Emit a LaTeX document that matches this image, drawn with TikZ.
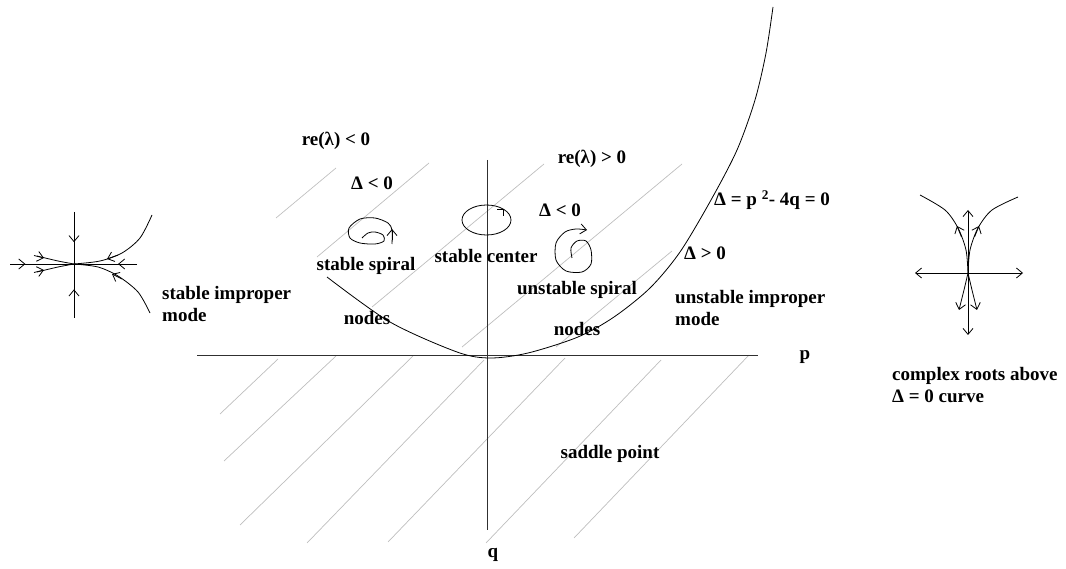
\documentclass[tikz,border=0pt]{standalone}
\usepackage{fontspec}
\setmainfont{Liberation Serif}
\usetikzlibrary{arrows.meta,decorations.markings}
\definecolor{hatchCol}{HTML}{BEBEBE}
\definecolor{axisCol}{HTML}{303030}
\tikzset{
  lbl/.style={font=\fontsize{19}{22}\selectfont\bfseries, inner sep=0pt, align=left},
  axline/.style={draw=axisCol, line width=0.9pt},
  hatch/.style={draw=hatchCol, line width=0.7pt},
  traj/.style={draw=black, line width=0.8pt},
  barb/.style={-{Straight Barb[length=6pt,width=10pt]}},
  midtip/.style={postaction=decorate, decoration={markings,
        mark=at position #1 with {\arrow{Straight Barb[length=6pt,width=10pt]}}}},
}

\begin{document}
\begin{tikzpicture}[x=1pt,y=-1pt]
  \useasboundingbox (0,0) rectangle (1066,569);
  % hatching, upper half
  \foreach \xa/\ya/\xb/\yb in {276/218/336/168, 317/257/429/163, 372/307/544/164,
                              462/347/682/164, 556/347/672/251}
    \draw[hatch] (\xa,\ya) -- (\xb,\yb);
  % hatching, lower half
  \foreach \xa/\ya/\xb/\yb in {220/414/278/359, 224/461/336/356, 240/525/413/356,
                              307/543/484/360, 388/542/565/358, 486/543/661/360,
                              574/538/749/355}
    \draw[hatch] (\xa,\ya) -- (\xb,\yb);
  % axes
  \coordinate (pL) at (197,355);
  \coordinate (pR) at (758,355);
  \coordinate (qT) at (487,160);
  \coordinate (qB) at (487,530);
  \draw[axline] (pL) -- (pR);
  \draw[axline] (qT) -- (qB);
  \node[lbl] (plab) at (805,357) {p};
  \node[lbl] (qlab) at (493,555) {q};
  % discriminant curve
  \draw[traj] plot[smooth] coordinates {(327,277) (390,322) (457,352) (490,358) (528,353)
     (578,337) (614,317) (650,288) (680,252) (711,200) (737,150) (755,100) (766,53) (773,7)};
  % region labels
  \node[lbl] (reneg)  at (336,141) {re(λ) < 0};
  \node[lbl] (dneg1)  at (372,183) {Δ < 0};
  \node[lbl] (repos)  at (592,159) {re(λ) > 0};
  \node[lbl] (dneg2)  at (560,210) {Δ < 0};
  \node[lbl] (sspir)  at (366,266) {stable spiral};
  \node[lbl] (scent)  at (486,256) {stable center};
  \node[lbl] (uspir)  at (577,290) {unstable spiral};
  \node[lbl] (nodesL) at (367,318) {nodes};
  \node[lbl] (nodesR) at (577,329) {nodes};
  \node[lbl] (dpos)   at (705,253) {Δ > 0};
  \node[lbl, anchor=west] (disc) at (714,200) {Δ = p \textsuperscript{2}- 4q = 0};
  \node[lbl, anchor=west] (uimp) at (675,308) {unstable improper\\mode};
  \node[lbl, anchor=west] (simp) at (162,304) {stable improper\\mode};
  \node[lbl, anchor=west] (cplx) at (892,385) {complex roots above\\Δ = 0 curve};
  \node[lbl] (sadd)   at (610,454) {saddle point};
  % small orbits
  \draw[traj] plot[smooth] coordinates {(392,244) (392,230) (388,223) (375,218)
     (360,219) (349,228) (350,238) (360,243) (375,244) (384,241) (383,235) (375,232)
     (368,233) (362,238)};
  \draw[traj, barb] (392,240) -- (392,229);
  \draw[traj] (486.5,220) ellipse[x radius=24.5, y radius=15];
  \draw[traj] (497,209) -- (503,209) -- (503,216);
  \draw[traj, barb] plot[smooth] coordinates {(572,258) (571,248) (577,241) (586,241)
     (591,250) (591,264) (582,272) (566,271) (556,260) (556,243) (565,232) (576,229) (587,230)};
  % stable improper node (left)
  \coordinate (lC) at (74,264);
  \coordinate (lT) at (74,212);
  \coordinate (lB) at (74,318);
  \coordinate (lW) at (10,264);
  \coordinate (lE) at (137,264);
  \draw[traj, midtip=0.58] (lT) -- (lC);
  \draw[traj, midtip=0.53] (lB) -- (lC);
  \draw[traj, midtip=0.24] (lW) -- (lC);
  \draw[traj, midtip=0.3]  (lE) -- (lC);
  \draw[traj] plot[smooth] coordinates {(152,215) (140,238) (122,253) (100,261) (lC)};
  \draw[traj] plot[smooth] coordinates {(150,313) (138,292) (118,276) (98,267) (lC)};
  \draw[traj] plot[smooth] coordinates {(37,256) (58,261) (lC)};
  \draw[traj] plot[smooth] coordinates {(37,272) (58,267) (lC)};
  \draw[traj, barb] (118,255) -- (107,259);
  \draw[traj, barb] (122,279) -- (112,274);
  \draw[traj, barb] (34,255.5) -- (44,258);
  \draw[traj, barb] (34,272.5) -- (44,270);
  % unstable improper node (right)
  \coordinate (rC) at (968,273);
  \draw[traj, barb] (rC) -- (915,273);
  \draw[traj, barb] (rC) -- (1023,273);
  \draw[traj, barb] (rC) -- (968,210);
  \draw[traj, barb] (rC) -- (968,335);
  \draw[traj] plot[smooth] coordinates {(rC) (966,250) (958,228) (945,210) (920,195)};
  \draw[traj] plot[smooth] coordinates {(rC) (970,250) (978,228) (992,210) (1018,197)};
  \draw[traj, barb] (961.5,237) -- (957,226);
  \draw[traj, barb] (974.5,237) -- (979,226);
  \draw[traj, barb] plot[smooth] coordinates {(rC) (964,290) (959,310)};
  \draw[traj, barb] plot[smooth] coordinates {(rC) (972,290) (977,310)};
\end{tikzpicture}
\end{document}
